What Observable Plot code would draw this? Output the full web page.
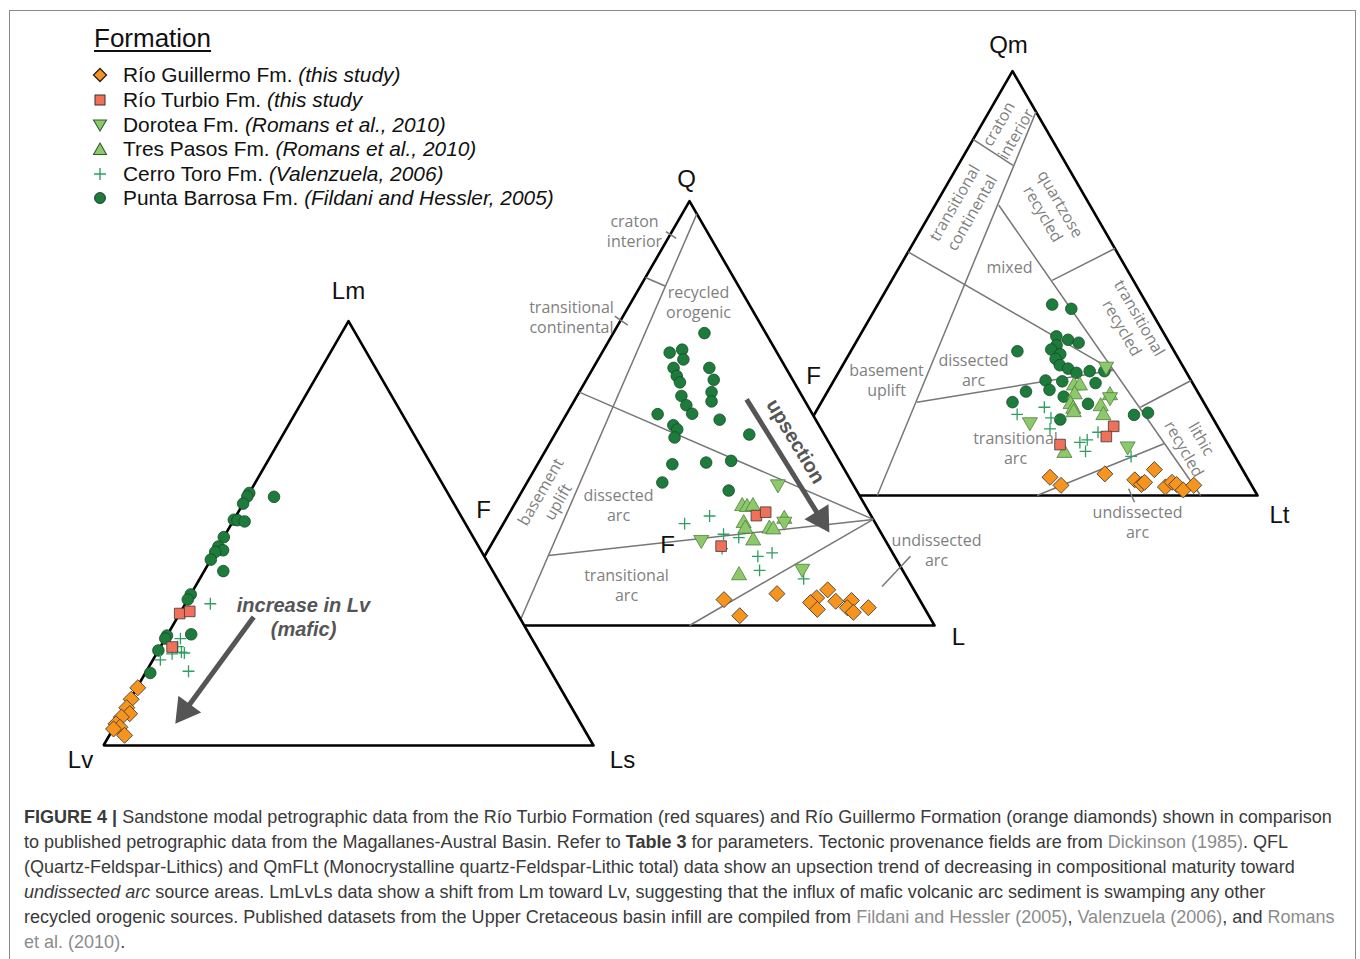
<!DOCTYPE html>
<html><head><meta charset="utf-8">
<script src="https://cdn.jsdelivr.net/npm/d3@7"></script>
<script src="https://cdn.jsdelivr.net/npm/@observablehq/plot@0.6"></script>
<style>
body{margin:0;background:#fff;}
#wrap{position:relative;width:1360px;height:959px;overflow:hidden;font-family:"Liberation Sans",Arial,sans-serif;}
#chart{position:absolute;left:0;top:0;}
#frame{position:absolute;left:9px;top:10px;width:1347px;height:1000px;border:1px solid #8a8a8a;box-sizing:border-box;pointer-events:none;}
#legend{position:absolute;left:0;top:0;width:600px;height:220px;}
#legend .title{position:absolute;left:94px;top:23px;font-size:26px;line-height:30px;text-decoration:underline;text-decoration-thickness:1.5px;text-underline-offset:3px;color:#111;}
#legend .row{position:absolute;left:90px;height:24px;line-height:24px;font-size:20.9px;color:#111;white-space:nowrap;}
#legend .row svg{position:absolute;left:1px;top:3px;}
#legend .row span{position:absolute;left:33px;top:0;}
#caption{position:absolute;left:24px;top:805px;font-family:"Liberation Sans",Arial,sans-serif;font-size:17px;line-height:25px;color:#3a3a3a;white-space:nowrap;}
#caption .ln{height:25px;}
#caption .lk{color:#8c8c8c;}
</style></head><body>
<div id="wrap">
  <div id="chart"></div>
  <div id="legend"></div>
  <div id="caption">
    <div class="ln"><span id="l1"><b>FIGURE 4 |</b> Sandstone modal petrographic data from the Río Turbio Formation (red squares) and Río Guillermo Formation (orange diamonds) shown in comparison</span></div>
    <div class="ln">to published petrographic data from the Magallanes-Austral Basin. Refer to <b>Table 3</b> for parameters. Tectonic provenance fields are from <span class="lk">Dickinson (1985)</span>. QFL</div>
    <div class="ln">(Quartz-Feldspar-Lithics) and QmFLt (Monocrystalline quartz-Feldspar-Lithic total) data show an upsection trend of decreasing in compositional maturity toward</div>
    <div class="ln"><i>undissected arc</i> source areas. LmLvLs data show a shift from Lm toward Lv, suggesting that the influx of mafic volcanic arc sediment is swamping any other</div>
    <div class="ln">recycled orogenic sources. Published datasets from the Upper Cretaceous basin infill are compiled from <span class="lk">Fildani and Hessler (2005)</span>, <span class="lk">Valenzuela (2006)</span>, and <span class="lk">Romans</span></div>
    <div class="ln"><span class="lk">et al. (2010)</span>.</div>
  </div>
  <div id="frame"></div>
</div>
<script>
// ---------------- DATA ----------------
const formations = ["Río Guillermo Fm.", "Río Turbio Fm.", "Dorotea Fm.", "Tres Pasos Fm.", "Cerro Toro Fm.", "Punta Barrosa Fm."];
const sources = ["(this study)", "(this study", "(Romans et al., 2010)", "(Romans et al., 2010)", "(Valenzuela, 2006)", "(Fildani and Hessler, 2005)"];
const legendTitle = "Formation";

// LmLvLs diagram: [Lm %, Ls %]  (Lv = 100 - Lm - Ls)
const lmlvls_PB = [[59.5,0],[58.7,0],[58.6,5.5],[57.0,0],[53.2,0],[53.1,0.8],[52.8,2.4],[49.1,0],[46.9,0],[46.0,1.4],[45.6,0],[43.8,0],[41.1,3.9],[35.6,0],[34.4,0],[25.9,0],[25.2,0],[26.2,4.8],[22.4,0],[17.1,1.0]];
const lmlvls_CT = [[33.4,5.1],[25.2,3.1],[21.6,3.2],[22.0,4.9],[21.8,5.6],[20.2,1.5],[17.5,8.6],[23.3,3.5]];
const lmlvls_RT = [[31.1,0],[31.6,1.8],[23.2,2.4]];
const lmlvls_RG = [[13.6,0.2],[10.9,0.2],[8.9,0.3],[7.5,1.6],[6.7,0.3],[5.1,0],[4.3,1.2],[2.4,3.1],[3.9,0.1]];

// QFL diagram: [Q %, L %]  (F = 100 - Q - L)
const qfl_PB = [[68.9,18.6],[64.3,13.8],[65.0,16.0],[62.7,17.4],[60.7,16.4],[60.7,23.7],[57.9,26.0],[58.8,18.0],[57.3,19.4],[55.0,27.0],[52.8,28.1],[54.1,21.3],[51.9,23.4],[49.9,25.6],[49.8,18.6],[48.5,31.9],[47.2,23.1],[46.2,24.4],[44.3,24.8],[45.0,39.7],[38.0,27.5],[38.4,34.2],[38.8,39.1],[33.7,27.6],[31.8,42.1]];
const qfl_CT = [[24.0,37.0],[25.8,41.2],[21.5,46.2],[20.7,49.7],[18.1,47.6],[16.3,55.8],[17.1,58.3],[13.0,57.8],[11.0,67.8]];
const qfl_TP = [[28.1,46.7],[27.9,47.8],[28.1,48.9],[24.1,49.0],[22.8,50.0],[20.0,53.0],[22.8,54.9],[22.6,55.8],[11.8,54.2],[25.1,56.8]];
const qfl_DO = [[33.3,51.4],[20.2,42.3],[24.5,57.1],[13.4,66.3]];
const qfl_RT = [[25.9,50.7],[26.7,52.2],[18.7,47.1]];
const qfl_RG = [[6.1,54.0],[2.3,59.1],[7.5,64.1],[8.4,74.0],[6.5,72.7],[5.4,72.0],[3.8,74.2],[5.7,77.0],[5.9,80.1],[4.2,80.1],[3.1,81.9],[4.2,84.4]];

// QmFLt diagram: [Qm %, Lt %]  (F = 100 - Qm - Lt)
const qmflt_PB = [[45.0,35.6],[44.0,40.0],[37.5,40.2],[36.7,43.0],[36.0,45.5],[35.4,41.3],[34.4,40.7],[33.3,43.1],[32.2,42.7],[34.0,34.0],[30.7,44.3],[29.9,46.4],[28.9,48.6],[29.3,51.1],[29.3,54.1],[27.1,43.2],[26.9,46.7],[26.5,53.7],[24.5,40.5],[24.9,45.1],[23.3,48.8],[22.0,39.0],[21.6,54.6],[17.9,50.8],[19.0,65.3],[19.5,67.9]];
const qmflt_CT = [[19.1,41.4],[20.8,46.1],[18.3,48.7],[15.7,49.8],[14.9,60.0],[13.1,58.7],[12.5,57.5],[10.4,59.7],[9.2,69.6]];
const qmflt_TP = [[25.9,49.6],[25.9,50.8],[23.8,50.8],[21.5,51.1],[20.4,52.2],[21.0,57.5],[18.9,59.1],[23.6,58.1],[10.0,55.6],[19.6,52.7]];
const qmflt_DO = [[30.4,53.9],[23.2,58.3],[17.3,44.9],[11.6,67.7]];
const qmflt_RT = [[16.3,62.5],[13.9,62.2],[12.0,53.7]];
const qmflt_RG = [[4.3,55.5],[2.4,58.7],[5.1,66.3],[6.1,75.9],[3.7,73.1],[2.6,75.0],[3.1,75.4],[2.0,80.2],[3.1,81.0],[2.6,82.2],[1.3,84.2],[2.4,85.8]];

// Dickinson (1985) field boundaries, [top %, right %] end points
const qflFields = [[[97,3],[0,15]], [[82,0],[80,5]], [[55,0],[25,75]], [[16.5,13],[25,75]], [[0,50],[25,75]]];
const qflLeaders = [[[92.8,-1.2],[91.2,1.7]], [[72.9,-1.7],[70.8,2.0]], [[9.2,84.7],[16.3,86.95]]];
const qmfltFields = [[[90.4,9.6],[0,22.4]], [[83.9,0],[77.8,11.2]], [[57.4,0],[29.5,55.8]], [[22,19.5],[29.5,55.8]], [[68.4,13.0],[0,88.4]], [[50.7,32.75],[58.2,41.8]], [[20.8,65.7],[27.1,72.9]], [[0,55],[12.2,74.8]]];
const qmfltLeaders = [[[1.6,72.9],[-1.6,75.7]]];

// trend arrows [top %, right %] start -> tip
const qflArrow = [[53.3,35.0],[21.9,67.6]];
const lmArrow = [[30.3,15.5],[5.1,12.1]];

// text labels
const vertexLabels = [
  {t:"Lm", x:348, y:291}, {t:"Lv", x:80, y:760}, {t:"Ls", x:622, y:760},
  {t:"Q", x:686, y:179}, {t:"F", x:483, y:510}, {t:"L", x:958, y:637}, {t:"F", x:667, y:545},
  {t:"Qm", x:1008, y:45}, {t:"F", x:813, y:376}, {t:"Lt", x:1279, y:515}
];
const qmfltFieldLabels = [
  {t:"craton\ninterior", x:1006, y:128, r:-60},
  {t:"transitional\ncontinental", x:962, y:207, r:-60},
  {t:"quartzose\nrecycled", x:1052, y:208, r:60},
  {t:"mixed", x:1009, y:266, r:0},
  {t:"transitional\nrecycled", x:1131, y:322, r:60},
  {t:"basement\nuplift", x:886, y:379, r:0},
  {t:"dissected\narc", x:973, y:369, r:0},
  {t:"transitional\narc", x:1015, y:447, r:0},
  {t:"lithic\nrecycled", x:1193, y:443, r:60},
  {t:"undissected\narc", x:1137, y:521, r:0}
];
const qflFieldLabels = [
  {t:"craton\ninterior", x:634, y:230, r:0},
  {t:"transitional\ncontinental", x:571, y:316, r:0},
  {t:"recycled\norogenic", x:698, y:301, r:0},
  {t:"basement\nuplift", x:548, y:496, r:-60},
  {t:"dissected\narc", x:618, y:504, r:0},
  {t:"transitional\narc", x:626, y:584, r:0},
  {t:"undissected\narc", x:936, y:549, r:0}
];
const upsectionLabel = [{t:"upsection", x:795, y:441, r:59}];
const mafLabel = [{t:"increase in Lv\n(mafic)", x:303, y:616}];

// ---------------- GEOMETRY ----------------
const SQ = Math.sqrt(3) / 2;
const TRI = {
  lm:  {x0:103, y0:745, side:490},
  qfl: {x0:444, y0:625, side:490},
  qm:  {x0:767, y0:495, side:490}
};
function toXY(t, top, right) {
  const a = top / 100, c = right / 100;
  return [t.x0 + (c + a / 2) * t.side, t.y0 - a * SQ * t.side];
}
const pts = (t, arr) => arr.map(([a, c]) => { const [x, y] = toXY(t, a, c); return {x, y}; });
const outline = t => pts(t, [[100,0],[0,100],[0,0],[100,0],[0,100]]);
const segs = (t, arr) => arr.map(([p, q]) => { const [x1,y1] = toXY(t, p[0], p[1]); const [x2,y2] = toXY(t, q[0], q[1]); return {x1,y1,x2,y2}; });

const STY = {
  RG: {symbol:"square", rotate:45, r:6.4, fill:"#F7941D", stroke:"#3a3a3a", strokeWidth:0.8},
  RT: {symbol:"square", r:6.0, fill:"#F1705A", stroke:"#3a3a3a", strokeWidth:0.8},
  DO: {symbol:"triangle", rotate:180, r:5.6, fill:"#8DC86B", stroke:"#4f7f3c", strokeWidth:0.8},
  TP: {symbol:"triangle", r:5.6, fill:"#8DC86B", stroke:"#4f7f3c", strokeWidth:0.8},
  CT: {symbol:"plus", r:3.9, fill:"none", stroke:"#2E9E62", strokeWidth:1.3},
  PB: {symbol:"circle", r:5.8, fill:"#1D7B3C", stroke:"#164a27", strokeWidth:0.8}
};
const dots = (t, arr, key) => Plot.dot(pts(t, arr), {x:"x", y:"y", ...STY[key]});
const triMark = t => Plot.line(outline(t), {x:"x", y:"y", fill:"white", stroke:"#000", strokeWidth:2.6, strokeLinejoin:"miter"});
const fieldMark = (t, arr) => Plot.link(segs(t, arr), {x1:"x1", y1:"y1", x2:"x2", y2:"y2", stroke:"#777", strokeWidth:1.5});
const fieldText = arr => Plot.text(arr, {x:"x", y:"y", text:"t", rotate:"r", fill:"#7f7f7f", fontSize:16, fontFamily:"'Open Sans', sans-serif", lineHeight:1.25, textAnchor:"middle"});

function arrowMarks(t, arr) {
  const [sx, sy] = toXY(t, arr[0][0], arr[0][1]);
  const [tx, ty] = toXY(t, arr[1][0], arr[1][1]);
  const L = Math.hypot(tx - sx, ty - sy), dx = (tx - sx) / L, dy = (ty - sy) / L;
  const hr = 10.5, k = 0.7776 * hr;
  const head = {x: tx - dx * 2 * k, y: ty - dy * 2 * k};
  const shaft = {x1: sx, y1: sy, x2: tx - dx * (3 * k - 1), y2: ty - dy * (3 * k - 1)};
  const ang = Math.atan2(dx, -dy) * 180 / Math.PI;
  return [
    Plot.link([shaft], {x1:"x1", y1:"y1", x2:"x2", y2:"y2", stroke:"#555", strokeWidth:5}),
    Plot.dot([head], {x:"x", y:"y", symbol:"triangle", r:hr, rotate:ang, fill:"#555", stroke:"none"})
  ];
}

const vFont = "'Liberation Sans', Arial, sans-serif";
const plot = Plot.plot({
  width: 1360, height: 800, margin: 0,
  x: {domain:[0,1360], range:[0,1360], axis:null},
  y: {domain:[0,800], range:[0,800], axis:null},
  style: {background:"transparent"},
  marks: [
    // QmFLt
    triMark(TRI.qm),
    fieldMark(TRI.qm, qmfltFields),
    fieldMark(TRI.qm, qmfltLeaders),
    fieldText(qmfltFieldLabels),
    dots(TRI.qm, qmflt_PB, "PB"), dots(TRI.qm, qmflt_CT, "CT"), dots(TRI.qm, qmflt_TP, "TP"),
    dots(TRI.qm, qmflt_DO, "DO"), dots(TRI.qm, qmflt_RT, "RT"), dots(TRI.qm, qmflt_RG, "RG"),
    // QFL
    triMark(TRI.qfl),
    fieldMark(TRI.qfl, qflFields),
    fieldMark(TRI.qfl, qflLeaders),
    fieldText(qflFieldLabels),
    dots(TRI.qfl, qfl_PB, "PB"), dots(TRI.qfl, qfl_CT, "CT"), dots(TRI.qfl, qfl_TP, "TP"),
    dots(TRI.qfl, qfl_DO, "DO"), dots(TRI.qfl, qfl_RT, "RT"), dots(TRI.qfl, qfl_RG, "RG"),
    ...arrowMarks(TRI.qfl, qflArrow),
    // LmLvLs
    triMark(TRI.lm),
    dots(TRI.lm, lmlvls_PB, "PB"), dots(TRI.lm, lmlvls_CT, "CT"),
    dots(TRI.lm, lmlvls_RT, "RT"), dots(TRI.lm, lmlvls_RG, "RG"),
    ...arrowMarks(TRI.lm, lmArrow),
    // texts
    Plot.text(upsectionLabel, {x:"x", y:"y", text:"t", rotate:"r", fontWeight:"bold", fill:"#555", fontSize:20, fontFamily:vFont}),
    Plot.text(mafLabel, {x:"x", y:"y", text:"t", fontStyle:"italic", fontWeight:"bold", fill:"#555", fontSize:20, fontFamily:vFont, lineHeight:1.2}),
    Plot.text(vertexLabels, {x:"x", y:"y", text:"t", fill:"#111", fontSize:24, fontFamily:vFont})
  ]
});
document.getElementById("chart").appendChild(plot);

// ---------------- LEGEND ----------------
const legSym = [
  '<path d="M9,2.5L15.5,9L9,15.5L2.5,9Z" fill="#F7941D" stroke="#222" stroke-width="1.3"/>',
  '<rect x="4" y="4" width="10" height="10" fill="#F1705A" stroke="#333" stroke-width="1"/>',
  '<path d="M2.5,4L15.5,4L9,15Z" fill="#8DC86B" stroke="#2f5e2a" stroke-width="1.1"/>',
  '<path d="M9,3L15.5,14.5L2.5,14.5Z" fill="#8DC86B" stroke="#2f5e2a" stroke-width="1.1"/>',
  '<path d="M9,3V15M3,9H15" stroke="#2E9E62" stroke-width="1.4" fill="none"/>',
  '<circle cx="9" cy="9" r="5.5" fill="#1D7B3C" stroke="#123" stroke-width="0.8"/>'
];
const rowY = [75, 99.5, 124.5, 149, 173.5, 198];
let lh = '<div class="title">' + legendTitle + '</div>';
formations.forEach((f, i) => {
  lh += '<div class="row" style="top:' + (rowY[i] - 12) + 'px"><svg width="18" height="18" viewBox="0 0 18 18">' + legSym[i] +
        '</svg><span>' + f + ' <i>' + sources[i] + '</i></span></div>';
});
document.getElementById("legend").innerHTML = lh;

// fit caption width to the reference line length
const l1 = document.getElementById("l1");
const w1 = l1.getBoundingClientRect().width;
if (w1 > 0) document.getElementById("caption").style.fontSize = (17 * 1309 / w1).toFixed(2) + "px";
</script>
</body></html>
